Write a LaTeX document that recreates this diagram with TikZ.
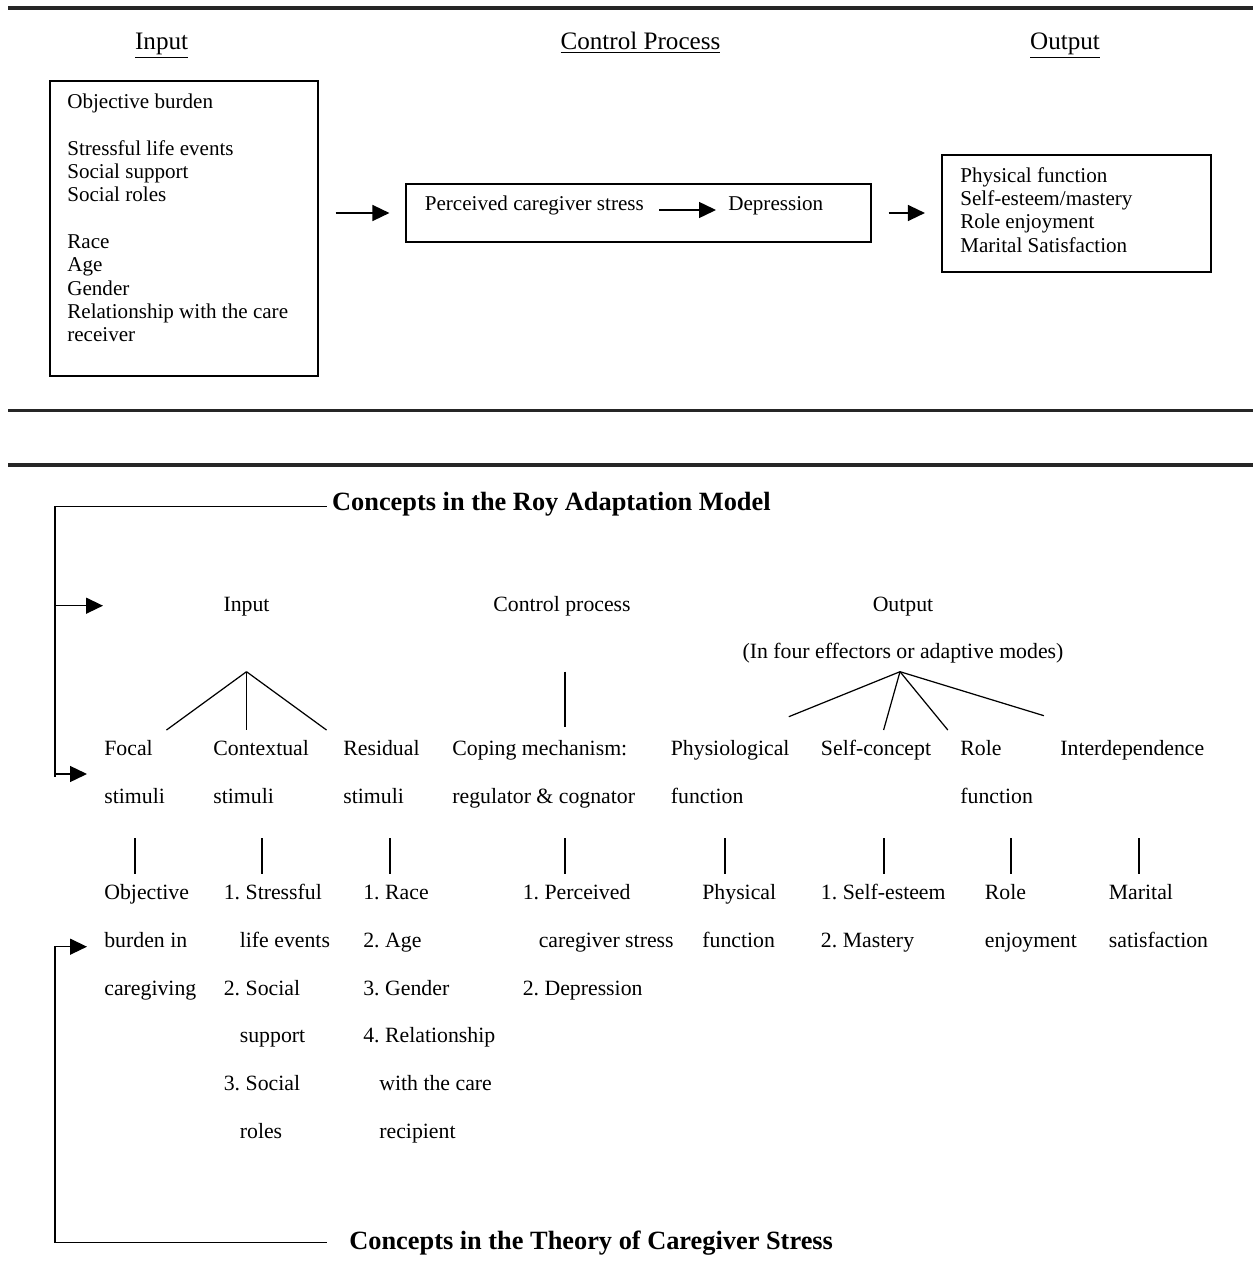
\documentclass[tikz,border=0pt]{standalone}
\usepackage{fontspec}
\setmainfont{Liberation Serif}
\usetikzlibrary{arrows.meta}
\newcommand{\lblindent}{\hspace*{0.32cm}}
\frenchspacing

\begin{document}
\begin{tikzpicture}[x=0.02cm,y=-0.02cm,%
  rule/.style={line width=1.8pt,color=black!85},
  box/.style={draw,line width=0.7pt,inner sep=0pt},
  ln/.style={line width=0.7pt},
  arr/.style={line width=0.8pt,-{Triangle[length=0.34cm,width=0.32cm]}},
  hd/.style={font=\fontsize{14.3}{17}\selectfont,anchor=base,inner sep=0pt},
  boxtxt/.style={font=\fontsize{12}{13.3}\selectfont,align=left,anchor=north west,inner sep=0pt},
  ttl/.style={font=\fontsize{15}{18}\selectfont\bfseries,anchor=base west,inner sep=0pt},
  lbl/.style={font=\fontsize{12.4}{27.2}\selectfont,align=left,anchor=north west,inner sep=0pt}]
  \useasboundingbox (0,0) rectangle (1253,1284);
  \fill[white] (0,0) rectangle (1253,1284);
  \draw[rule] (8,8) -- (1253,8);
  \draw[rule] (8,410.5) -- (1253,410.5);
  \draw[rule] (8,465) -- (1253,465);
  % upper model
  \node[hd] (hin) at (161.6,50) {\underline{Input}};
  \node[hd] (hcp) at (640.5,50) {\underline{Control Process}};
  \node[hd] (hout) at (1065,50) {\underline{Output}};
  \node[box,minimum width=5.36cm,minimum height=5.9cm] (inbox) at (184,228.5) {};
  \node[boxtxt] (intxt) at (67,91.6) {\strut Objective burden\\[\baselineskip]
    Stressful life events\\Social support\\Social roles\\[\baselineskip]
    Race\\Age\\Gender\\Relationship with the care\\receiver};
  \node[box,minimum width=9.3cm,minimum height=1.16cm] (ctrl) at (638.5,213) {};
  \node[boxtxt,anchor=base west] (pcs) at (424.5,211) {Perceived caregiver stress};
  \node[boxtxt,anchor=base west] (dep) at (728,211) {Depression};
  \node[box,minimum width=5.38cm,minimum height=2.34cm] (outbox) at (1076.5,213.5) {};
  \node[boxtxt] (outtxt) at (960,165.3) {\strut Physical function\\Self-esteem/mastery\\
    Role enjoyment\\Marital Satisfaction};
  \draw[arr,shorten <=0.34cm,shorten >=0.32cm] (inbox.east |- ctrl.west) -- (ctrl.west);
  \draw[arr] ([shift={(0.3cm,0.02cm)}]pcs.base east) -- ([shift={(-0.24cm,0.02cm)}]dep.base west);
  \draw[arr,shorten <=0.34cm,shorten >=0.33cm] (ctrl.east) -- (outbox.west |- ctrl.east);
  % lower model
  \node[ttl] (roy) at (331.8,510) {Concepts in the Roy Adaptation Model};
  \node[ttl] (theo) at (349,1249.3) {Concepts in the Theory of Caregiver Stress};
  \node[lbl,anchor=base] (lin) at (246.5,611.7) {Input};
  \node[lbl,anchor=base] (lcp) at (562,611.7) {Control process};
  \node[lbl,anchor=base] (lout) at (903,611.7) {Output};
  \node[lbl,anchor=base] (modes) at (903,658) {(In four effectors or adaptive modes)};
  \coordinate (inroot) at (246.5,671.7);
  \foreach \px in {166.5,246.5,326.5}
    \draw[ln] (inroot) -- (\px,730);
  \coordinate (cproot) at (565,671.7);
  \draw[ln] (cproot) -- (565,726.7);
  \coordinate (outroot) at (900,671.7);
  \foreach \px/\py in {788.8/716.7,883.6/730,947.8/730,1043.9/715.7}
    \draw[ln] (outroot) -- (\px,\py);
  \node[lbl] (focal) at (104,721.4) {\strut Focal\\stimuli};
  \node[lbl] (contx) at (213,721.4) {\strut Contextual\\stimuli};
  \node[lbl] (resid) at (343,721.4) {\strut Residual\\stimuli};
  \node[lbl] (coping) at (452,721.4) {\strut Coping mechanism:\\regulator \& cognator};
  \node[lbl] (physio) at (670.5,721.4) {\strut Physiological\\function};
  \node[lbl] (selfc) at (820.6,721.4) {\strut Self-concept};
  \node[lbl] (rolef) at (960,721.4) {\strut Role\\function};
  \node[lbl] (interd) at (1060,721.4) {\strut Interdependence};
  \foreach \px in {135,262,390,565,725,884,1011,1139}
    \draw[ln] (\px,838) -- (\px,874);
  \node[lbl] (objb) at (104,865.7) {\strut Objective\\burden in\\caregiving};
  \node[lbl] (stressors) at (223.5,865.7) {\strut 1. Stressful\\\lblindent life events\\2. Social\\
    \lblindent support\\3. Social\\\lblindent roles};
  \node[lbl] (demog) at (363,865.7) {\strut 1. Race\\2. Age\\3. Gender\\4. Relationship\\
    \lblindent with the care\\\lblindent recipient};
  \node[lbl] (percv) at (522.4,865.7) {\strut 1. Perceived\\\lblindent caregiver stress\\2. Depression};
  \node[lbl] (physf) at (702,865.7) {\strut Physical\\function};
  \node[lbl] (selfe) at (820.6,865.7) {\strut 1. Self-esteem\\2. Mastery};
  \node[lbl] (rolee) at (984.6,865.7) {\strut Role\\enjoyment};
  \node[lbl] (marit) at (1108.5,865.7) {\strut Marital\\satisfaction};
  % brackets
  \coordinate (roycorner) at (55,776.7);
  \coordinate (roytipA) at (103,605.7);
  \coordinate (roytipB) at (87,774);
  \draw[ln] ([shift={(-0.106cm,0.066cm)}]roy.base west) -| (roycorner);
  \draw[arr] (roycorner |- roytipA) -- (roytipA);
  \draw[arr] (roycorner |- roytipB) -- (roytipB);
  \coordinate (theocorner) at (55,946.7);
  \coordinate (theotip) at (87,946.7);
  \draw[arr] ([shift={(-0.45cm,0.132cm)}]theo.base west) -| (theocorner) -- (theotip);
\end{tikzpicture}
\end{document}
